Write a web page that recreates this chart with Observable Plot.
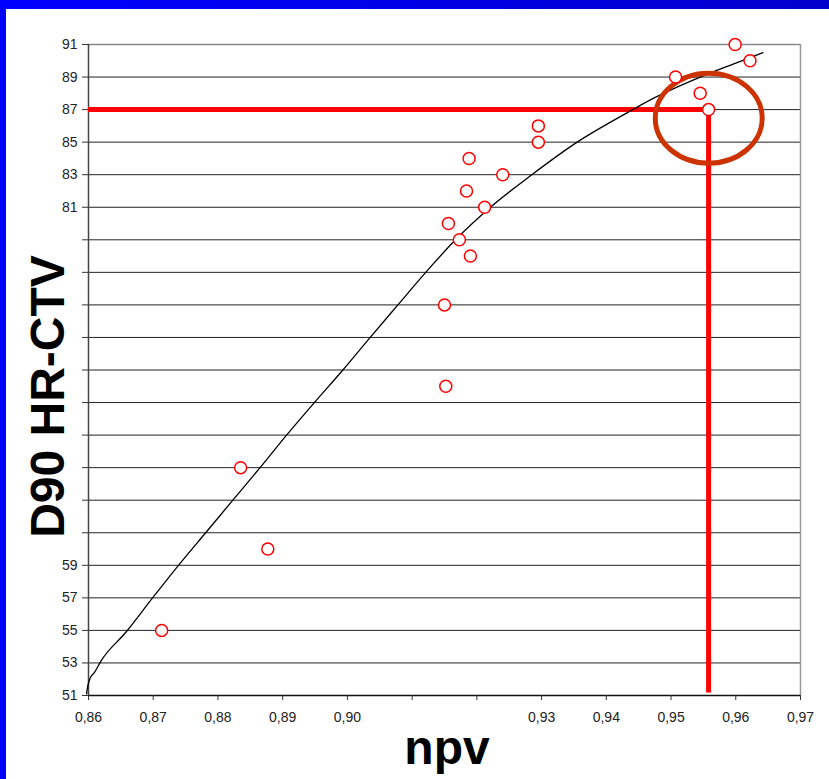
<!DOCTYPE html>
<html><head><meta charset="utf-8">
<script src="https://cdn.jsdelivr.net/npm/d3@7"></script>
<script src="https://cdn.jsdelivr.net/npm/@observablehq/plot@0.6"></script>
<style>
html,body{margin:0;padding:0;background:#fff;}
#wrap{position:relative;width:829px;height:779px;overflow:hidden;background:#fff;}
#top{position:absolute;left:0;top:0;width:829px;height:9px;background:linear-gradient(to right,#0000FF,#0000CC);}
#left{position:absolute;left:0;top:0;width:6px;height:779px;background:#0000FF;}
#chart{position:absolute;left:6px;top:9px;}
</style></head><body>
<div id="wrap"><div id="top"></div><div id="left"></div><div id="chart"></div></div>
<script>
// Observed points
const npv = [0.8713, 0.8835, 0.8877, 0.9150, 0.9152, 0.9156, 0.9173, 0.9190, 0.9184, 0.9188, 0.9212, 0.9240, 0.9295, 0.9295, 0.9507, 0.9545, 0.9558, 0.9599, 0.9622];
const d90 = [55, 65, 60, 75, 70, 80, 79, 78, 82, 84, 81, 83, 85, 86, 89, 88, 87, 91, 90];

// Trend line
const fitNpv = [0.8597, 0.8599, 0.8603, 0.8609, 0.8619, 0.8658, 0.8699, 0.8739, 0.8781, 0.8823, 0.8865, 0.8906, 0.8949, 0.8993, 0.9033, 0.9078, 0.9121, 0.9167, 0.9221, 0.9285, 0.9355, 0.9432, 0.9468, 0.9545, 0.9596, 0.9642];
const fitD90 = [51.1, 51.6, 52.1, 52.4, 53.1, 54.9, 57.0, 59.0, 61.0, 63.0, 65.0, 67.0, 69.0, 71.0, 72.9, 75.0, 77.0, 79.0, 81.0, 83.0, 85.0, 86.8, 87.6, 89.0, 89.8, 90.5];

// Axis ticks and their labels (some labels hidden in the original)
const xTicks = [0.86, 0.87, 0.88, 0.89, 0.90, 0.91, 0.92, 0.93, 0.94, 0.95, 0.96, 0.97];
const xTickLabels = ["0,86", "0,87", "0,88", "0,89", "0,90", "", "", "0,93", "0,94", "0,95", "0,96", "0,97"];
const yTicks = [51, 53, 55, 57, 59, 61, 63, 65, 67, 69, 71, 73, 75, 77, 79, 81, 83, 85, 87, 89, 91];
const yTickLabels = ["51", "53", "55", "57", "59", "", "", "", "", "", "", "", "", "", "", "81", "83", "85", "87", "89", "91"];

// Cut-off guide lines and highlight ellipse
const cutoffNpv = 0.9558;
const cutoffD90 = 87;
const highlight = [{npv: 0.9559, d90: 86.44, rNpv: 0.00826, rD90: 2.76}];

const xTitle = "npv";
const yTitle = "D90 HR-CTV";

const points = npv.map((x, i) => ({npv: x, d90: d90[i]}));
const fit = fitNpv.map((x, i) => ({npv: x, d90: fitD90[i]}));

const chart = Plot.plot({
  width: 823, height: 770,
  marginLeft: 82, marginRight: 29, marginTop: 35, marginBottom: 84,
  style: {fontFamily: "'Liberation Sans', Arial, sans-serif", fontSize: "14px", color: "#222", background: "#fff", overflow: "visible"},
  x: {domain: [0.86, 0.97]},
  y: {domain: [51, 91]},
  marks: [
    Plot.ruleY(yTicks.slice(1, -1), {stroke: "#222", strokeWidth: 1}),
    Plot.ruleY([91], {stroke: "#888", strokeWidth: 1.5}),
    Plot.ruleX([0.97], {stroke: "#999", strokeWidth: 1.5}),
    Plot.ruleX([0.86], {stroke: "#444", strokeWidth: 1.5}),
    Plot.ruleY([51], {stroke: "#111", strokeWidth: 1.5}),
    Plot.axisX({ticks: xTicks, tickFormat: d => xTickLabels[xTicks.indexOf(d)], tickSize: 5, tickPadding: 12, label: null, stroke: "#333", fontSize: 14, fill: "#222"}),
    Plot.axisY({ticks: yTicks, tickFormat: d => yTickLabels[yTicks.indexOf(d)], tickSize: 6, tickPadding: 5, label: null, stroke: "#333", fontSize: 14, fill: "#222"}),
    Plot.ruleY([cutoffD90], {x1: 0.86, x2: cutoffNpv, stroke: "#FF0000", strokeWidth: 5}),
    Plot.ruleX([cutoffNpv], {y1: 51.15, y2: cutoffD90, stroke: "#FF0000", strokeWidth: 5}),
    Plot.line(fit, {x: "npv", y: "d90", curve: "monotone-x", stroke: "#000", strokeWidth: 1.3}),
    Plot.dot(highlight, {x: "npv", y: "d90", render: (index, scales) => {
      const g = d3.create("svg:g");
      for (const h of highlight) {
        const cx = scales.x(h.npv), cy = scales.y(h.d90);
        const rx = Math.abs(scales.x(h.npv + h.rNpv) - cx);
        const ry = Math.abs(scales.y(h.d90 + h.rD90) - cy);
        g.append("ellipse").attr("cx", cx).attr("cy", cy).attr("rx", rx).attr("ry", ry)
          .attr("fill", "none").attr("stroke", "#CC3300").attr("stroke-width", 5);
      }
      return g.node();
    }}),
    Plot.dot(points, {x: "npv", y: "d90", r: 6, stroke: "#FF0000", fill: "#fff", strokeWidth: 1.5}),
    Plot.text([yTitle], {text: d => d, frameAnchor: "left", rotate: -90, textAnchor: "middle", lineAnchor: "bottom", dx: -25, dy: 26.5, fontSize: 48, fontWeight: "bold", fill: "#000"}),
    Plot.text([xTitle], {text: d => d, frameAnchor: "bottom", textAnchor: "middle", lineAnchor: "bottom", dx: 2.5, dy: 68, fontSize: 48, fontWeight: "bold", fill: "#000"})
  ]
});
document.getElementById("chart").appendChild(chart);
</script>
</body></html>
